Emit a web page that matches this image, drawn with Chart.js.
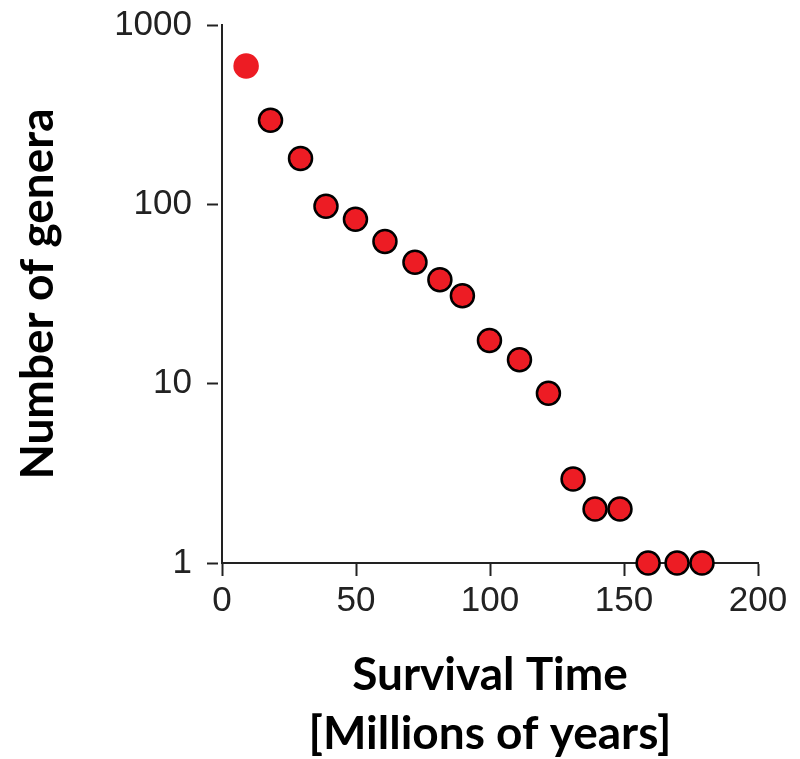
<!DOCTYPE html>
<html>
<head>
<meta charset="utf-8">
<script src="https://cdn.jsdelivr.net/npm/chart.js@4/dist/chart.umd.min.js"></script>
<style>
  html, body { margin: 0; padding: 0; background: #fff; }
  #wrap { width: 800px; height: 759px; }
</style>
</head>
<body>
<div id="wrap"><canvas id="chart"></canvas></div>
<script>
/* Survival time of genera (millions of years) vs number of genera */
const survivalTime = [9, 18.1, 29.3, 38.8, 49.8, 60.8, 72, 81.3, 89.7, 99.8, 111, 121.8, 131, 139.2, 148.5, 159, 169.8, 179.1];
const generaCount = [590, 294, 180, 97.5, 82.6, 62, 47.5, 38, 30.9, 17.4, 13.6, 8.85, 2.94, 2, 2, 1, 1, 1];
const yTickValues = [1, 10, 100, 1000];
const xTitle = ["Survival Time", "[Millions of years]"];
const yTitle = "Number of genera";

const RED = "#ed1c24";
const INK = "#222222";

const points = survivalTime.map((x, i) => ({x: x, y: generaCount[i]}));
/* first point is drawn without the black outline */
const borderColors = points.map((p, i) => i === 0 ? RED : "#000000");

new Chart(document.getElementById("chart"), {
    type: "scatter",
    data: {
        datasets: [{
            data: points,
            backgroundColor: RED,
            borderColor: borderColors,
            pointBorderColor: borderColors,
            pointBackgroundColor: RED,
            pointRadius: 11.5,
            pointHoverRadius: 11.5,
            pointBorderWidth: 2.5,
            clip: false
        }]
    },
    options: {
        responsive: true,
        maintainAspectRatio: false,
        animation: false,
        layout: {padding: {top: 25, right: 42, left: 0, bottom: 0}},
        plugins: {legend: {display: false}, tooltip: {enabled: false}},
        scales: {
            x: {
                type: "linear",
                min: 0,
                max: 200,
                afterFit: scale => {
                    scale.height = 196;
                    scale.paddingLeft = 0;
                    scale.paddingRight = 0;
                },
                ticks: {
                    stepSize: 50,
                    color: INK,
                    padding: 4,
                    font: {family: "Liberation Sans", size: 35}
                },
                grid: {
                    drawOnChartArea: false,
                    drawTicks: true,
                    tickLength: 13,
                    tickWidth: 2,
                    tickColor: INK
                },
                border: {display: true, color: INK, width: 2},
                title: {
                    display: true,
                    text: xTitle,
                    color: "#000",
                    padding: {top: 0, bottom: -4},
                    font: {family: "Lato", weight: "bold", size: 46, lineHeight: 1.27}
                }
            },
            y: {
                type: "logarithmic",
                min: 1,
                max: 1000,
                afterFit: scale => {
                    scale.width = 222;
                    scale.paddingTop = 0;
                    scale.paddingBottom = 0;
                },
                afterBuildTicks: scale => {
                    scale.ticks = yTickValues.map(v => ({value: v, major: true}));
                },
                ticks: {
                    color: INK,
                    padding: 15,
                    font: {family: "Liberation Sans", size: 35},
                    callback: v => String(v)
                },
                grid: {
                    drawOnChartArea: false,
                    drawTicks: true,
                    tickLength: 15,
                    tickWidth: 2,
                    tickColor: INK,
                    tickBorderDash: [11, 100]
                },
                border: {display: true, color: INK, width: 2},
                title: {
                    display: true,
                    text: yTitle,
                    color: "#000",
                    padding: {top: 11, bottom: 0},
                    font: {family: "Lato", weight: "bold", size: 46}
                }
            }
        }
    }
});
</script>
</body>
</html>
